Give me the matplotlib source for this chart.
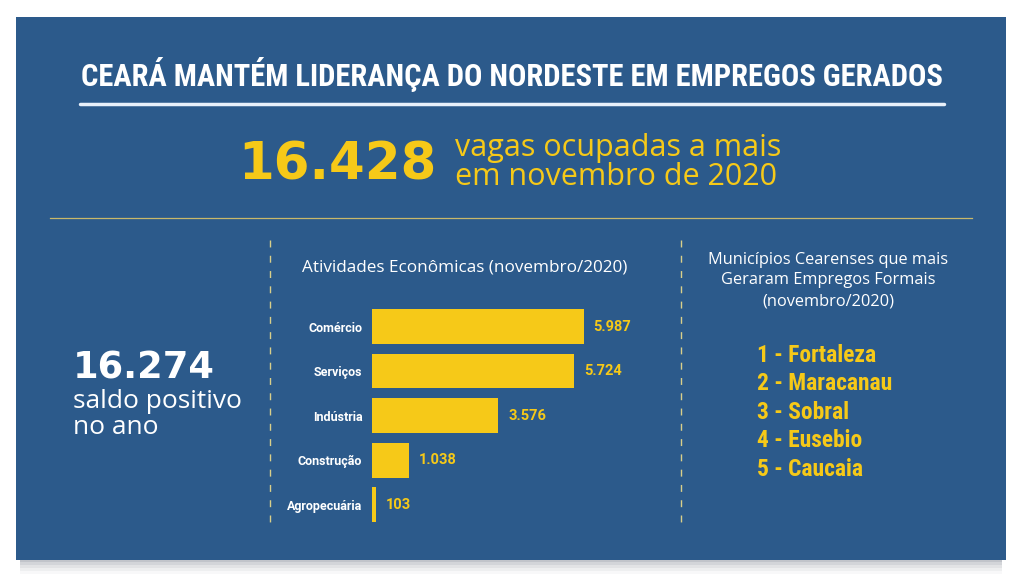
import matplotlib.pyplot as plt
from matplotlib import font_manager
from matplotlib.font_manager import FontProperties
from matplotlib.patches import Rectangle

# dados
setores = ['Comércio', 'Serviços', 'Indústria', 'Construção', 'Agropecuária']
saldos = [5987, 5724, 3576, 1038, 103]
rotulos = ['5.987', '5.724', '3.576', '1.038', '103']
municipios = ['1 - Fortaleza', '2 - Maracanau', '3 - Sobral', '4 - Eusebio', '5 - Caucaia']

AZUL = '#2c5a8b'
AMARELO = '#f6c918'
BRANCO = 'white'


def peso(f):
    w = f.weight
    if isinstance(w, str):
        return 700 if 'bold' in w.lower() else 400
    return w


def preferencia(f):
    n = (f.name + ' ' + f.fname).lower()
    if 'roboto' in n:
        return 0
    if 'narrow' in n:
        return 1
    return 2


# procura uma fonte condensada em negrito instalada
def arquivo_estreito():
    achadas = [f for f in font_manager.fontManager.ttflist
               if ('condensed' in (f.name + f.fname).lower() or 'narrow' in (f.name + f.fname).lower())
               and f.style == 'normal' and peso(f) >= 600]
    if not achadas:
        return None
    achadas.sort(key=lambda f: (preferencia(f), abs(peso(f) - 700)))
    return achadas[0].fname


ARQ = arquivo_estreito()


def fonte_estreita(tamanho):
    if ARQ:
        return FontProperties(fname=ARQ, size=tamanho)
    return FontProperties(family=['Roboto', 'DejaVu Sans'], weight='bold', size=tamanho)


TEXTO = ['Open Sans', 'DejaVu Sans']

W, H = 1024, 582
fig = plt.figure(figsize=(W / 100, H / 100), dpi=100)
fig.patch.set_facecolor('white')
renderer = fig.canvas.get_renderer()


def ajusta_largura(t, largura):
    # ajusta o tamanho da fonte para ocupar a largura do original
    w = t.get_window_extent(renderer).width
    t.set_fontsize(t.get_fontsize() * largura / w)


bg = fig.add_axes([0, 0, 1, 1])
bg.set_xlim(0, W)
bg.set_ylim(H, 0)
bg.axis('off')

# sombra do painel
for i, a in enumerate([0.04, 0.06, 0.08, 0.10, 0.14]):
    d = 14 - 3 * i
    bg.add_patch(Rectangle((16 + 4, 17 + d), 990 - 8, 543, color='#556070', alpha=a, lw=0))
bg.add_patch(Rectangle((16, 17), 990, 543, color=AZUL, lw=0))

# titulo
tit = bg.text(512, 75, 'CEARÁ MANTÉM LIDERANÇA DO NORDESTE EM EMPREGOS GERADOS',
              color=BRANCO, fontproperties=fonte_estreita(20), ha='center', va='center')
ajusta_largura(tit, 864)
bg.plot([80, 944], [104, 104], color='#e8f0fa', lw=2.5, solid_capstyle='round')

# destaque
bg.text(436, 165, '16.428', color=AMARELO, fontsize=37, fontweight='bold',
        family=['DejaVu Sans'], ha='right', va='center')
bg.text(455, 148, 'vagas ocupadas a mais', color=AMARELO, fontsize=22,
        family=TEXTO, ha='left', va='center')
bg.text(455, 177, 'em novembro de 2020', color=AMARELO, fontsize=22,
        family=TEXTO, ha='left', va='center')
bg.plot([50, 972], [218, 218], color='#c9b86a', lw=0.9)

# divisores tracejados
for x in [270, 681]:
    bg.plot([x, x], [240, 522], color='#d9cf8a', lw=1, ls=(0, (5, 6)))

# saldo no ano
bg.text(73, 368, '16.274', color=BRANCO, fontsize=26.5, fontweight='bold',
        family=['DejaVu Sans'], ha='left', va='center')
bg.text(73, 402, 'saldo positivo', color=BRANCO, fontsize=19,
        family=TEXTO, ha='left', va='center')
bg.text(73, 427, 'no ano', color=BRANCO, fontsize=19,
        family=TEXTO, ha='left', va='center')

# grafico de barras
bg.text(465, 268, 'Atividades Econômicas (novembro/2020)', color=BRANCO,
        fontsize=12.3, family=TEXTO, ha='center', va='center')

left, right, top, bottom = 372, 660, 302, 527
ax = fig.add_axes([left / W, 1 - bottom / H, (right - left) / W, (bottom - top) / H])
ax.set_facecolor('none')
pos = list(range(len(setores)))
ax.barh(pos, saldos, height=0.78, color=AMARELO)
ax.set_ylim(len(setores) - 0.5, -0.55)
ax.set_xlim(0, (right - left) / 0.03535)
ax.set_yticks(pos)
ax.set_yticklabels(setores, color=BRANCO, fontsize=9, fontweight='bold',
                   family=['Roboto', 'DejaVu Sans'])
ax.tick_params(axis='y', length=0, pad=7)
ax.set_xticks([])
for s in ax.spines.values():
    s.set_visible(False)
for p, v, r in zip(pos, saldos, rotulos):
    ax.text(v + 280, p, r, color=AMARELO, fontsize=10.5, fontweight='bold',
            family=['Roboto', 'DejaVu Sans'], ha='left', va='center')

# municipios
for i, linha in enumerate(['Municípios Cearenses que mais', 'Geraram Empregos Formais', '(novembro/2020)']):
    bg.text(828, 260 + i * 20.5, linha, color=BRANCO, fontsize=11.8,
            family=TEXTO, ha='center', va='center')
itens = []
for i, m in enumerate(municipios):
    itens.append(bg.text(757, 355 + i * 28.6, m, color=AMARELO,
                         fontproperties=fonte_estreita(16.5), ha='left', va='center'))
w0 = itens[0].get_window_extent(renderer).width
for t in itens:
    t.set_fontsize(t.get_fontsize() * 119 / w0)

fig.savefig('out.png', dpi=100, facecolor=fig.get_facecolor())
